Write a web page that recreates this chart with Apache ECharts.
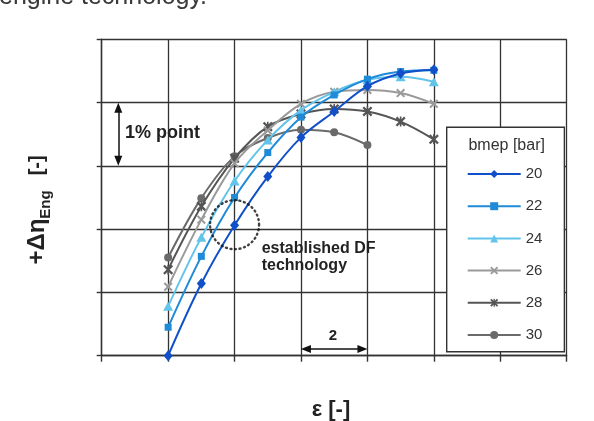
<!DOCTYPE html>
<html>
<head>
<meta charset="utf-8">
<script src="https://cdn.jsdelivr.net/npm/echarts@6/dist/echarts.min.js"></script>
<style>
  html, body { margin: 0; padding: 0; background: #fff; }
  #chart { width: 594px; height: 421px; }
</style>
</head>
<body>
<div id="chart"></div>
<script>
// Compression ratio steps (x) and efficiency gain per load level (y, % points)
const epsilon = [10, 11, 12, 13, 14, 15, 16, 17, 18];
const bmep20 = [0.00, 1.14, 2.06, 2.83, 3.45, 3.86, 4.26, 4.46, 4.52];
const bmep22 = [0.45, 1.57, 2.50, 3.21, 3.77, 4.12, 4.37, 4.49, 4.51];
const bmep24 = [0.78, 1.87, 2.76, 3.41, 3.88, 4.17, 4.36, 4.41, 4.33];
const bmep26 = [1.09, 2.15, 3.04, 3.56, 3.98, 4.17, 4.20, 4.15, 3.98];
const bmep28 = [1.36, 2.36, 3.12, 3.62, 3.82, 3.90, 3.86, 3.70, 3.42];
const bmep30 = [1.55, 2.49, 3.15, 3.44, 3.57, 3.53, 3.33, null, null];
const seriesNames = ['20', '22', '24', '26', '28', '30'];

// Operating point of the established dual-fuel technology (circled)
const dfPoint = [12, 2.07];

// Dimension arrows: "1% point" and "2"
const arrowOnePercent = [[8.5, 3.08], [8.5, 3.92]];
const arrowTwo = [[14.15, 0.106], [15.85, 0.106]];

const FONT = '"Liberation Sans", Arial, Helvetica, sans-serif';

const symX = 'path://M0,1.6 L1.6,0 L5,3.4 L8.4,0 L10,1.6 L6.6,5 L10,8.4 L8.4,10 L5,6.6 L1.6,10 L0,8.4 L3.4,5 Z';
const symStar = 'path://M0,1.6 L1.6,0 L5,3.4 L8.4,0 L10,1.6 L6.6,5 L10,8.4 L8.4,10 L5,6.6 L1.6,10 L0,8.4 L3.4,5 Z M4.2,0 L5.8,0 L5.8,10 L4.2,10 Z';

const styles = [
  { color: '#1150c8', symbol: 'diamond', size: [9, 11] },
  { color: '#1e8ad8', symbol: 'rect', size: 7 },
  { color: '#62c4ea', symbol: 'triangle', size: [10, 9] },
  { color: '#9a9a9a', symbol: symX, size: 9 },
  { color: '#555555', symbol: symStar, size: 10 },
  { color: '#6a6a6a', symbol: 'circle', size: 8 }
];
const values = [bmep20, bmep22, bmep24, bmep26, bmep28, bmep30];

function pairs(vals) {
  const out = [];
  epsilon.forEach((e, i) => { if (vals[i] != null) out.push([e, vals[i]]); });
  return out;
}

const curveSeries = seriesNames.map((name, i) => ({
  type: 'line',
  name: name,
  data: pairs(values[i]),
  smooth: 0.35,
  symbol: styles[i].symbol,
  symbolSize: styles[i].size,
  showSymbol: true,
  lineStyle: { color: styles[i].color, width: 2 },
  itemStyle: { color: styles[i].color },
  silent: true,
  z: 3 + (5 - i)
}));

const gridColor = '#333';

const chart = echarts.init(document.getElementById('chart'), null, { renderer: 'canvas' });
chart.setOption({
  animation: false,
  textStyle: { fontFamily: FONT },
  grid: { left: 101.7, right: 27.3, top: 39.3, bottom: 65.3, outerBoundsMode: 'none' },
  xAxis: {
    type: 'value', min: 8, max: 22, interval: 2,
    axisLine: { show: true, lineStyle: { color: gridColor, width: 1.4 } },
    axisTick: { show: true, length: 6, lineStyle: { color: gridColor, width: 1.4 } },
    axisLabel: { show: false },
    splitLine: { show: true, lineStyle: { color: gridColor, width: 1.3 } }
  },
  yAxis: {
    type: 'value', min: 0, max: 5, interval: 1,
    axisLine: { show: true, lineStyle: { color: gridColor, width: 1.4 } },
    axisTick: { show: true, length: 5, lineStyle: { color: gridColor, width: 1.4 } },
    axisLabel: { show: false },
    splitLine: { show: true, lineStyle: { color: gridColor, width: 1.3 } }
  },
  legend: {
    data: seriesNames,
    orient: 'vertical',
    left: 446.7, top: 127.3,
    padding: [38.7, 22, 8.7, 20],
    itemWidth: 53, itemHeight: 10, itemGap: 16.2,
    backgroundColor: '#fff',
    borderColor: '#333', borderWidth: 1.4, borderRadius: 0,
    textStyle: { fontSize: 15, color: '#333', lineHeight: 16, fontFamily: FONT },
    selectedMode: false
  },
  series: curveSeries.concat([{
    type: 'scatter',
    name: 'df',
    data: [dfPoint],
    symbol: 'circle',
    symbolSize: 49,
    silent: true,
    z: 10,
    itemStyle: {
      color: 'rgba(0,0,0,0)',
      borderColor: '#111',
      borderWidth: 2.4,
      borderType: [1, 3.6],
      borderCap: 'round'
    },
    markLine: {
      silent: true,
      symbol: ['triangle', 'triangle'],
      symbolSize: [8, 10],
      lineStyle: { color: '#111', width: 1.5, type: 'solid' },
      label: { show: false },
      emphasis: { disabled: true },
      data: [
        [{ coord: arrowOnePercent[0] }, { coord: arrowOnePercent[1] }],
        [{ coord: arrowTwo[0] }, { coord: arrowTwo[1] }]
      ]
    }
  }]),
  graphic: [
    {
      type: 'text', x: -1, y: 10, z: 100,
      style: { text: 'engine technology.', fontSize: 25, fontFamily: FONT, fill: '#3a3a3a',
               align: 'left', verticalAlign: 'bottom' }
    },
    {
      type: 'text', x: 37, y: 210, rotation: Math.PI / 2, z: 100,
      style: {
        text: '{a|+Δη}{b|Eng}{c|[-]}',
        align: 'center', verticalAlign: 'middle',
        rich: {
          a: { fontSize: 24, fontWeight: 'bold', fontFamily: FONT, fill: '#222', lineHeight: 32 },
          b: { fontSize: 15, fontWeight: 'bold', fontFamily: FONT, fill: '#222', lineHeight: 15, verticalAlign: 'bottom' },
          c: { fontSize: 20, fontWeight: 'bold', fontFamily: FONT, fill: '#222', lineHeight: 32, padding: [0, 0, 0, 15] }
        }
      }
    },
    {
      type: 'text', x: 331, y: 410, z: 100,
      style: { text: 'ε [-]', fontSize: 22, fontWeight: 'bold', fontFamily: FONT, fill: '#222',
               align: 'center', verticalAlign: 'middle' }
    },
    {
      type: 'text', x: 125, y: 133.3, z: 100,
      style: { text: '1% point', fontSize: 18, fontWeight: 'bold', fontFamily: FONT, fill: '#222',
               align: 'left', verticalAlign: 'middle' }
    },
    {
      type: 'text', x: 333, y: 335.5, z: 100,
      style: { text: '2', fontSize: 15, fontWeight: 'bold', fontFamily: FONT, fill: '#222',
               align: 'center', verticalAlign: 'middle' }
    },
    {
      type: 'text', x: 261.7, y: 257, z: 100,
      style: { text: 'established DF\ntechnology', fontSize: 16, lineHeight: 17.7, fontWeight: 'bold',
               fontFamily: FONT, fill: '#222', align: 'left', verticalAlign: 'middle' }
    },
    {
      type: 'text', x: 506.7, y: 146, z: 100,
      style: { text: 'bmep [bar]', fontSize: 16, fontFamily: FONT, fill: '#333',
               align: 'center', verticalAlign: 'middle' }
    }
  ]
});
</script>
</body>
</html>
